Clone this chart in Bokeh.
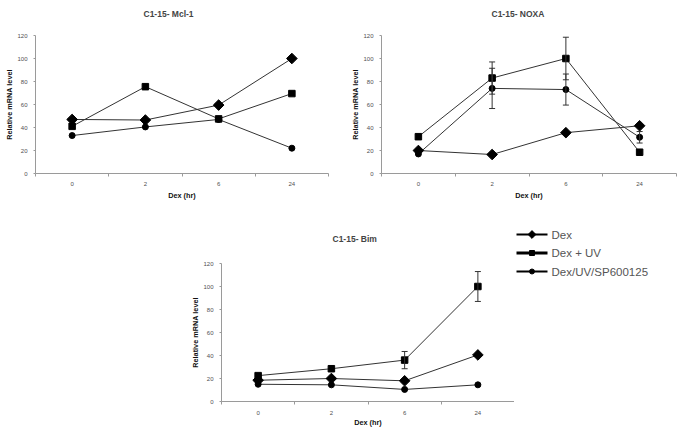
import math
from bokeh.plotting import figure
from bokeh.models import (Range1d, FixedTicker, Whisker, TeeHead, ColumnDataSource,
                          Spacer, LinearAxis)
from bokeh.core.properties import value
from bokeh.layouts import column, row
from bokeh.embed import file_html
from bokeh.resources import INLINE

# ---------------- data ----------------
hours = ["0", "2", "6", "24"]
y_ticks = [0, 20, 40, 60, 80, 100, 120]
series_names = ["Dex", "Dex + UV", "Dex/UV/SP600125"]

mcl_dex = [47, 46.5, 59.5, 100]
mcl_uv = [41, 75.5, 47.5, 69.5]
mcl_sp = [33, 40.5, 47, 22]
mcl_uv_err = [0, 0, 0, 0]
mcl_sp_err = [0, 0, 0, 0]

noxa_dex = [20, 16.5, 35.5, 41.5]
noxa_uv = [32, 83, 100, 18.5]
noxa_sp = [17, 74, 73, 31.5]
noxa_uv_err = [0, 14, 18.5, 0]
noxa_sp_err = [0, 17.5, 13.5, 5]

bim_dex = [18.5, 20, 18, 40.5]
bim_uv = [22.5, 28.5, 36, 100]
bim_sp = [15, 14.5, 10.5, 14.5]
bim_uv_err = [0, 0, 7.5, 13]
bim_sp_err = [0, 0, 0, 0]

FONT = "Liberation Sans"
LINE_C = "#333333"
AXIS_C = "#9a9a9a"
TICK_C = "#505050"


def make_panel(title, dex, uv, sp, uv_err, sp_err, width, height, bl, br, bt, bb,
               lab_standoff, axlab_standoff, title_left, title_gap):
    xs = list(range(1, len(hours) + 1))
    p = figure(width=width, height=height, output_backend="svg", toolbar_location=None,
               x_range=Range1d(0.5, len(hours) + 0.5), y_range=Range1d(y_ticks[0], y_ticks[-1]),
               min_border_left=bl, min_border_right=br, min_border_top=bt, min_border_bottom=bb)
    p.frame_align = False
    xa = p.below[0]
    ya = p.left[0]
    # invisible spacer axis between frame and title (no line, no ticks drawn, no labels drawn)
    p.add_layout(LinearAxis(ticker=FixedTicker(ticks=xs), axis_line_color=None,
                            major_tick_line_color=None, minor_tick_line_color=None,
                            major_tick_out=title_gap, minor_tick_out=0, major_tick_in=0,
                            minor_tick_in=0, major_label_text_font_size="0px",
                            major_label_text_color=None), "above")
    p.title.text = title
    p.title.align = "left"
    p.title.text_font = FONT
    p.title.text_font_size = "8.5px"
    p.title.text_font_style = "bold"
    p.title.offset = title_left
    p.title.standoff = 10
    p.outline_line_color = None
    p.grid.visible = False
    p.background_fill_color = "white"

    xa.ticker = FixedTicker(ticks=xs, minor_ticks=[x - 0.5 for x in xs] + [xs[-1] + 0.5])
    xa.major_label_overrides = {x: h for x, h in zip(xs, hours)}
    xa.major_tick_line_color = None
    xa.major_tick_out = 0
    xa.major_tick_in = 0
    xa.minor_tick_line_color = AXIS_C
    xa.minor_tick_out = 3
    xa.minor_tick_in = 0
    xa.major_label_standoff = lab_standoff
    xa.axis_label = "Dex (hr)"
    xa.axis_label_standoff = axlab_standoff

    ya.ticker = FixedTicker(ticks=y_ticks)
    ya.minor_tick_line_color = None
    ya.major_tick_line_color = AXIS_C
    ya.major_tick_out = 2
    ya.major_tick_in = 0
    ya.major_label_standoff = 6
    ya.axis_label = "Relative mRNA level"
    ya.axis_label_standoff = 0

    for ax in (xa, ya):
        ax.axis_line_color = AXIS_C
        ax.major_label_text_font = FONT
        ax.major_label_text_font_size = "6px"
        ax.major_label_text_color = TICK_C
        ax.axis_label_text_font = FONT
        ax.axis_label_text_font_size = "7.3px"
        ax.axis_label_text_font_style = "bold"
        ax.axis_label_text_color = "#111111"

    # error bars
    for vals, errs in ((uv, uv_err), (sp, sp_err)):
        ex = [x for x, e in zip(xs, errs) if e > 0]
        if ex:
            src = ColumnDataSource(dict(
                x=ex,
                upper=[v + e for v, e in zip(vals, errs) if e > 0],
                lower=[v - e for v, e in zip(vals, errs) if e > 0]))
            p.add_layout(Whisker(source=src, base="x", upper="upper", lower="lower",
                                 line_color="#333333", line_width=1, level="glyph",
                                 upper_head=TeeHead(size=6, line_color="#333333", line_width=1),
                                 lower_head=TeeHead(size=6, line_color="#333333", line_width=1)))

    for vals in (dex, uv, sp):
        p.line(xs, vals, line_color=LINE_C, line_width=1)
    p.scatter(xs, dex, marker="square", angle=math.pi / 4, size=7.5, color="black")
    p.scatter(xs, uv, marker="square", size=6.5, color="black")
    p.scatter(xs, sp, marker="circle", size=6, color="black")
    return p


p1 = make_panel("C1-15- Mcl-1", mcl_dex, mcl_uv, mcl_sp, mcl_uv_err, mcl_sp_err,
                340, 205, 35, 12, 35, 32, 5, 2, 108, 12)
p2 = make_panel("C1-15- NOXA", noxa_dex, noxa_uv, noxa_sp, noxa_uv_err, noxa_sp_err,
                345, 205, 41, 9, 35, 32, 5, 2, 110, 12)
p3 = make_panel("C1-15- Bim", bim_dex, bim_uv, bim_sp, bim_uv_err, bim_sp_err,
                328, 228, 35, 0, 58, 32, 6, 0, 111, 15)

# legend panel (key samples drawn in pixel-like coordinates, y downwards)
LW, LH = 171, 228
lg = figure(width=LW, height=LH, output_backend="svg", toolbar_location=None, title=None,
            x_range=Range1d(0, LW), y_range=Range1d(LH, 0),
            x_axis_type=None, y_axis_type=None, min_border=0)
lg.frame_align = False
lg.outline_line_color = None
lg.grid.visible = False
styles = [("square", math.pi / 4, 5.5, 2), ("square", 0, 5, 3), ("circle", 0, 5, 2)]
for i, (name, (mk, ang, sz, lw)) in enumerate(zip(series_names, styles)):
    yc = 29 + 18.5 * i
    lg.segment(x0=[2], y0=[yc], x1=[33], y1=[yc], line_color="black", line_width=lw)
    lg.scatter(x=[17.5], y=[yc], marker=mk, angle=ang, size=sz, color="black")
    lg.text(x=[37], y=[yc], text=[name], text_font=value(FONT), text_font_size="11.5px",
            text_color="#555555", text_baseline="middle", text_align="left")

layout = column(row(p1, p2),
                row(Spacer(width=186, height=228), p3, lg))
open("out.html", "w").write(file_html(layout, INLINE))
